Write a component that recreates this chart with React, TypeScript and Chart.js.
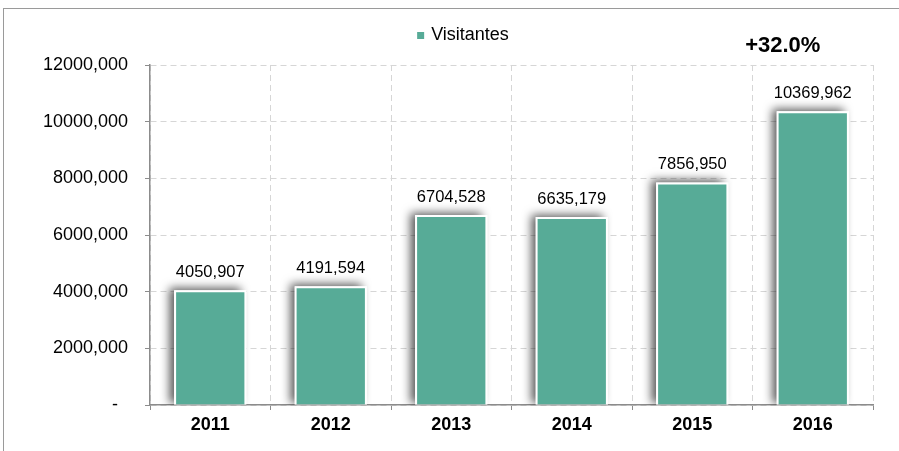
import React, { useEffect, useRef } from "react";
import { Chart, registerables } from "chart.js";

Chart.register(...registerables);

const categories = ["2011", "2012", "2013", "2014", "2015", "2016"];
const visitantes = [4050907, 4191594, 6704528, 6635179, 7856950, 10369962];
const seriesName = "Visitantes";
const growthLabel = "+32.0%";
const yMax = 12000000;
const yStep = 2000000;

const FONT = "'Liberation Sans', Arial, sans-serif";
const TEAL = "#57AB97";
const AXIS = "#8c8c8c";
const GRID = "#d6d6d6";

function fmt(v: number): string {
  if (v === 0) return "-  ";
  const k = Math.floor(v / 1000);
  const r = Math.round(v % 1000);
  return `${k},${String(r).padStart(3, "0")}`;
}

const shadowPlugin = {
  id: "barShadow",
  beforeDatasetsDraw(chart: any) {
    const ctx = chart.ctx;
    const area = chart.chartArea;
    const meta = chart.getDatasetMeta(0);
    ctx.save();
    ctx.beginPath();
    ctx.rect(area.left, area.top - 20, area.right - area.left, area.bottom - area.top + 20);
    ctx.clip();
    meta.data.forEach((el: any) => {
      const { x, y, base, width } = el.getProps(["x", "y", "base", "width"], true);
      ctx.save();
      ctx.shadowColor = "rgba(0,0,0,0.65)";
      ctx.shadowBlur = 9;
      ctx.shadowOffsetX = -5;
      ctx.shadowOffsetY = -2;
      ctx.fillStyle = "#ffffff";
      ctx.fillRect(x - width / 2, y, width, base - y);
      ctx.restore();
    });
    ctx.restore();
  },
};

const valueLabelPlugin = {
  id: "valueLabels",
  afterDatasetsDraw(chart: any) {
    const ctx = chart.ctx;
    const meta = chart.getDatasetMeta(0);
    const data = chart.data.datasets[0].data as number[];
    ctx.save();
    ctx.font = `16.5px ${FONT}`;
    ctx.fillStyle = "#000";
    ctx.textAlign = "center";
    ctx.textBaseline = "alphabetic";
    meta.data.forEach((el: any, i: number) => {
      const { x, y } = el.getProps(["x", "y"], true);
      ctx.fillText(fmt(data[i]), x, y - 13);
    });
    ctx.restore();
  },
};

const extrasPlugin = {
  id: "extras",
  afterDraw(chart: any) {
    const ctx = chart.ctx;
    const meta = chart.getDatasetMeta(0);
    const last = meta.data[meta.data.length - 1];
    ctx.save();
    // growth annotation
    ctx.font = `bold 22px ${FONT}`;
    ctx.fillStyle = "#000";
    ctx.textAlign = "center";
    ctx.textBaseline = "alphabetic";
    ctx.fillText(growthLabel, last.x - 30, 52);
    // legend
    ctx.font = `18px ${FONT}`;
    const tw = ctx.measureText(seriesName).width;
    const total = 7 + 7 + tw;
    const cx = 463;
    const sx = cx - total / 2;
    ctx.fillStyle = TEAL;
    ctx.fillRect(sx, 32, 7, 7);
    ctx.fillStyle = "#000";
    ctx.textAlign = "left";
    ctx.textBaseline = "middle";
    ctx.fillText(seriesName, sx + 14, 35.5);
    ctx.restore();
  },
};

export default function App() {
  const ref = useRef<HTMLCanvasElement | null>(null);

  useEffect(() => {
    if (!ref.current) return;
    const chart = new Chart(ref.current, {
      type: "bar",
      data: {
        labels: categories,
        datasets: [
          {
            label: seriesName,
            data: visitantes,
            backgroundColor: TEAL,
            borderColor: "#ffffff",
            borderWidth: 2,
            borderSkipped: "start",
            categoryPercentage: 1,
            barPercentage: 0.6,
          },
        ],
      },
      options: {
        animation: false,
        responsive: false,
        devicePixelRatio: 1,
        layout: { padding: { top: 65, right: 26, left: 0, bottom: 0 } },
        plugins: {
          legend: { display: false },
          tooltip: { enabled: false },
          title: { display: false },
        },
        scales: {
          x: {
            grid: {
              offset: true,
              color: GRID,
              lineWidth: 1,
              tickLength: 5,
              tickColor: AXIS,
              tickBorderDash: [],
              drawTicks: true,
            },
            border: { display: true, color: AXIS, width: 1.5, dash: [6, 4] },
            ticks: {
              font: { family: FONT, size: 18, weight: "bold" },
              color: "#000",
              padding: 4,
            },
            afterFit: (s: any) => {
              s.height = 46;
            },
          },
          y: {
            min: 0,
            max: yMax,
            ticks: {
              stepSize: yStep,
              callback: (v: any) => fmt(Number(v)),
              font: { family: FONT, size: 18 },
              color: "#000",
              padding: 17,
            },
            grid: {
              color: GRID,
              lineWidth: 1,
              tickLength: 5,
              tickColor: AXIS,
              tickBorderDash: [],
            },
            border: { display: true, color: AXIS, width: 1.5, dash: [6, 4] },
            afterFit: (s: any) => {
              s.width = 150;
            },
          },
        },
      },
      plugins: [shadowPlugin, valueLabelPlugin, extrasPlugin],
    } as any);
    return () => chart.destroy();
  }, []);

  return (
    <div
      style={{
        position: "absolute",
        left: 0,
        top: 0,
        width: 899,
        height: 451,
        overflow: "hidden",
        background: "#fff",
      }}
    >
      <div
        style={{
          position: "absolute",
          left: 3,
          top: 8,
          width: 960,
          height: 500,
          borderTop: "1.5px solid #9a9a9a",
          borderLeft: "1.5px solid #9a9a9a",
        }}
      />
      <canvas
        ref={ref}
        width={899}
        height={451}
        style={{ position: "absolute", left: 0, top: 0, display: "block" }}
      />
    </div>
  );
}
